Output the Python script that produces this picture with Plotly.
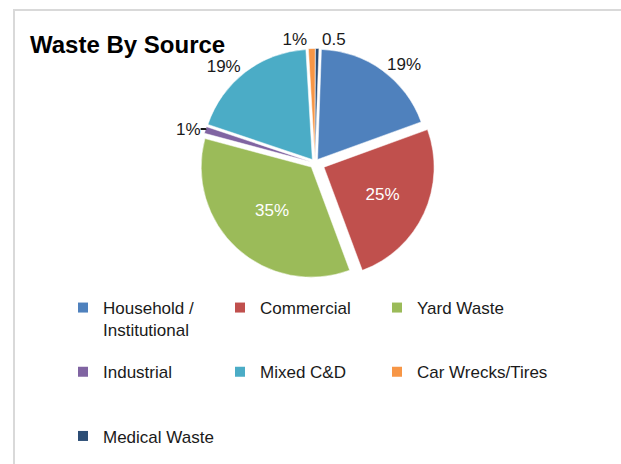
import plotly.graph_objects as go

W, H = 621, 464

categories = ["Household /<br>Institutional", "Commercial", "Yard Waste",
              "Industrial", "Mixed C&D", "Car Wrecks/Tires", "Medical Waste"]
values = [19, 25, 35, 1, 19, 1, 0.5]
labels_text = ["19%", "25%", "35%", "1%", "19%", "1%", "0.5"]
colors = ["#4F81BD", "#C0504D", "#9BBB59", "#8064A2", "#4BACC6", "#F79646", "#2C4D75"]
text_pos = ["outside", "inside", "inside", "outside", "outside", "outside", "outside"]
pulls = [0.04, 0.09, 0.05, 0.04, 0.04, 0.04, 0.04]
legend_column = ["legend", "legend2", "legend3", "legend", "legend2", "legend3", "legend"]

cx, cy, r = 315, 163, 120

fig = go.Figure(go.Pie(
    labels=[c.replace("<br>", " ") for c in categories],
    values=values,
    text=labels_text,
    texttemplate="%{text}",
    textposition=text_pos,
    insidetextfont=dict(color="white", size=17, family="Liberation Sans"),
    outsidetextfont=dict(color="#1a1a1a", size=17, family="Liberation Sans"),
    marker=dict(colors=colors, line=dict(color="white", width=0.5)),
    sort=False,
    direction="clockwise",
    rotation=2,
    pull=pulls,
    showlegend=False,
    insidetextorientation="horizontal",
    domain=dict(x=[(cx - r) / W, (cx + r) / W], y=[(H - cy - r) / H, (H - cy + r) / H]),
))

# legend entries (one per category), arranged in three columns
for name, col, leg in zip(categories, colors, legend_column):
    label = name if "<br>" in name else name + "<br> "
    fig.add_trace(go.Scatter(x=[None], y=[None], mode="markers", name=label,
                             marker=dict(symbol="square", size=10, color=col),
                             legend=leg, legendgroup=name, showlegend=True, hoverinfo="skip"))

leg_common = dict(orientation="v", yanchor="top", xanchor="left", tracegroupgap=17,
                  itemwidth=30, valign="top", bgcolor="rgba(0,0,0,0)",
                  font=dict(size=17, family="Liberation Sans", color="#1a1a1a"))
ly = 1 - 290 / H

fig.update_layout(
    width=W, height=H,
    margin=dict(l=0, r=0, t=0, b=0, autoexpand=False),
    paper_bgcolor="white",
    plot_bgcolor="white",
    xaxis=dict(visible=False), yaxis=dict(visible=False),
    font=dict(family="Liberation Sans", size=17, color="#1a1a1a"),
    title=dict(text="<b>Waste By Source</b>", x=30 / W, y=1 - 45 / H, xanchor="left", yanchor="middle",
               font=dict(size=24, family="Liberation Sans", color="black")),
    legend=dict(x=63 / W, y=ly, **leg_common),
    legend2=dict(x=220 / W, y=ly, **leg_common),
    legend3=dict(x=377 / W, y=ly, **leg_common),
    shapes=[dict(type="rect", xref="paper", yref="paper", x0=14 / W, y0=-0.05, x1=1.05, y1=1 - 10 / H,
                 line=dict(color="#d9d9d9", width=2), fillcolor="rgba(0,0,0,0)", layer="below")],
)

fig.write_html("out.html")
